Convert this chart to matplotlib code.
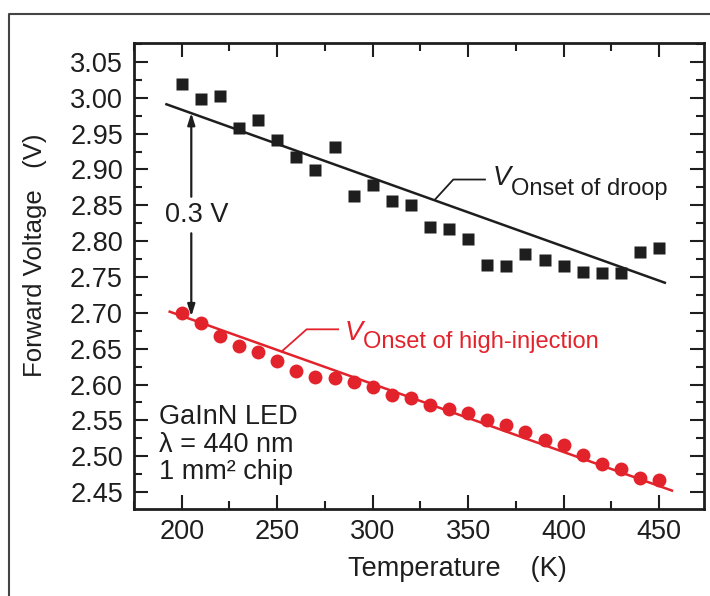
import matplotlib
matplotlib.use("Agg")
import matplotlib.pyplot as plt
from matplotlib.lines import Line2D
from matplotlib.ticker import MultipleLocator
import numpy as np

plt.rcParams['font.family'] = ['Liberation Sans', 'DejaVu Sans']

# ---- data ----
temperature = [200, 210, 220, 230, 240, 250, 260, 270, 280, 290, 300, 310, 320,
               330, 340, 350, 360, 370, 380, 390, 400, 410, 420, 430, 440, 450]
v_droop = [3.019, 2.999, 3.002, 2.958, 2.969, 2.941, 2.917, 2.899, 2.932, 2.863,
           2.879, 2.856, 2.851, 2.820, 2.817, 2.803, 2.767, 2.765, 2.782, 2.774,
           2.765, 2.757, 2.756, 2.756, 2.785, 2.790]
v_highinj = [2.700, 2.686, 2.668, 2.654, 2.645, 2.633, 2.619, 2.610, 2.609, 2.604,
             2.597, 2.585, 2.581, 2.572, 2.566, 2.560, 2.550, 2.544, 2.534, 2.523,
             2.515, 2.501, 2.489, 2.482, 2.470, 2.467]
droop_fit_T = [192, 453]
droop_fit_V = [2.991, 2.742]
hi_fit_T = [193.7, 456.7]
hi_fit_V = [2.7016, 2.452]
droop_leader_T = [332.6, 342.2, 358.8]
droop_leader_V = [2.858, 2.886, 2.886]
hi_leader_T = [252.3, 265.4, 281.9]
hi_leader_V = [2.646, 2.677, 2.677]
x_ticks = [200, 250, 300, 350, 400, 450]
y_ticks = [2.45, 2.50, 2.55, 2.60, 2.65, 2.70, 2.75, 2.80, 2.85, 2.90, 2.95, 3.00, 3.05]
sample_lines = ["GaInN LED", "\u03bb = 440 nm", "1 mm\u00b2 chip"]

BLACK = '#1e1e1e'
RED = '#e3232c'
FS = 19.5

W, H = 710, 596
fig = plt.figure(figsize=(W / 100, H / 100), dpi=100)
fig.patch.set_facecolor('white')

# outer frame (left and top borders)
fx = 8.5 / W
fy = 1 - 14 / H
fig.add_artist(Line2D([fx, fx, 1.0], [0.0, fy, fy], transform=fig.transFigure,
                      color='#444444', lw=1.5))

ax = fig.add_axes([134 / W, 1 - 509 / H, 570 / W, 466 / H])
ax.set_xlim(175, 473.5)
ax.set_ylim(2.4263, 3.0765)

ax.plot(droop_fit_T, droop_fit_V, color=BLACK, lw=1.8, zorder=2)
ax.plot(hi_fit_T, hi_fit_V, color=RED, lw=1.8, zorder=2)
ax.plot(temperature, v_droop, 's', color=BLACK, ms=9.2, mec='none', zorder=3)
ax.plot(temperature, v_highinj, 'o', color=RED, ms=10, mec='none', zorder=3)

ax.plot(droop_leader_T, droop_leader_V, color=BLACK, lw=1.3, zorder=2)
ax.plot(hi_leader_T, hi_leader_V, color=RED, lw=1.3, zorder=2)

ax.text(363.0, 2.8784, "V", style='italic', fontsize=FS, color=BLACK, ha='left', va='baseline')
ax.text(372.3, 2.8644, "Onset of droop", fontsize=17, color=BLACK, ha='left', va='baseline')
ax.text(285.4, 2.6621, "V", style='italic', fontsize=FS, color=RED, ha='left', va='baseline')
ax.text(295.0, 2.651, "Onset of high-injection", fontsize=17, color=RED, ha='left', va='baseline')

# 0.3 V arrows
ap = dict(arrowstyle='-|>,head_length=0.7,head_width=0.22', color=BLACK, lw=1.6,
          shrinkA=0, shrinkB=0)
ax.annotate('', xy=(205, 2.979), xytext=(205, 2.862), arrowprops=ap)
ax.annotate('', xy=(205, 2.695), xytext=(205, 2.811), arrowprops=ap)
ax.text(208, 2.8365, "0.3 V", fontsize=FS, color=BLACK, ha='center', va='center')

for s, yv in zip(sample_lines, [2.555, 2.5155, 2.4778]):
    ax.text(188, yv, s, fontsize=FS, color=BLACK, ha='left', va='center')

ax.set_xticks(x_ticks)
ax.set_yticks(y_ticks)
ax.set_yticklabels([f"{v:.2f}" for v in y_ticks])
ax.xaxis.set_minor_locator(MultipleLocator(25))
ax.yaxis.set_minor_locator(MultipleLocator(0.025))
ax.tick_params(which='both', direction='in', top=True, right=True, colors=BLACK,
               labelsize=FS, width=1.5)
ax.tick_params(which='major', length=10)
ax.tick_params(which='minor', length=6)
ax.tick_params(axis='y', pad=8)
ax.tick_params(axis='x', pad=7)
for sp in ax.spines.values():
    sp.set_linewidth(2.0)
    sp.set_color(BLACK)

ax.set_xlabel("Temperature    (K)", fontsize=FS, color=BLACK)
ax.xaxis.set_label_coords((457 - 134) / 570, -0.10)
ax.set_ylabel("Forward Voltage   (V)", fontsize=18.5, color=BLACK)
ax.yaxis.set_label_coords(-0.153, 0.545)

fig.savefig("out.png", dpi=100, facecolor='white')
